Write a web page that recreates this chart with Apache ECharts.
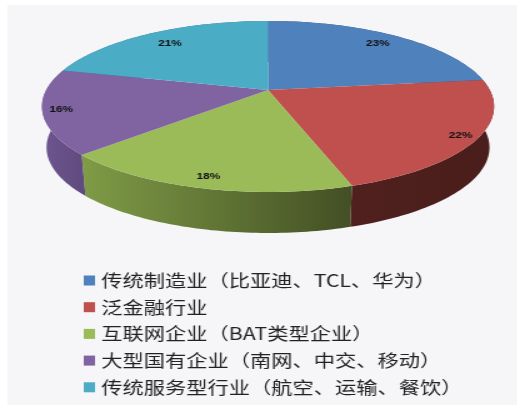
<!DOCTYPE html>
<html>
<head>
<meta charset="utf-8">
<script src="https://cdn.jsdelivr.net/npm/echarts@6/dist/echarts.min.js"></script>
<style>
  html, body { margin: 0; padding: 0; background: #fff; overflow: hidden; }
  /* the source picture is stretched sideways and soft, so the whole chart is too */
  #chart { width: 414px; height: 405px; transform: scaleX(1.25); transform-origin: 0 0; filter: blur(0.5px); }
</style>
</head>
<body>
<div id="chart"></div>
<script>
const categories = [
  '传统制造业（比亚迪、TCL、华为）',
  '泛金融行业',
  '互联网企业（BAT类型企业）',
  '大型国有企业（南网、中交、移动）',
  '传统服务型行业（航空、运输、餐饮）',
]
const shares = [23, 22, 18, 16, 21]

const topColors = ['#4f81bd', '#c0504d', '#9bbb59', '#8064a2', '#4bacc6']
const sideColors = [
  ['#34557c', '#34557c'],
  ['#4f201e', '#4a1e1c'],
  ['#7f9c46', '#434f25'],
  ['#6e5690', '#5f4a7c'],
  ['#31748a', '#31748a'],
]
const labelReach = [0.84, 0.93, 0.9, 0.92, 0.81]

// 倾斜的圆盘：透视投影
const disc = { cx: 214.4, cy: 90, a: 177.4, b: 82.3, k: 0.193, depth: 41, shrink: 0.98 }

function project(angle, r, drop) {
  const u = Math.sin(angle) * r
  const v = Math.cos(angle) * r
  const w = 1 + disc.k * v
  const s = drop ? disc.shrink : 1
  return [disc.cx + (disc.a * s * u) / w, disc.cy - (disc.b * v) / w + (drop ? disc.depth : 0)]
}

function arc(from, to, drop) {
  const pts = []
  const steps = 60
  for (let i = 0; i <= steps; i++) {
    pts.push(project(from + ((to - from) * i) / steps, 1, drop))
  }
  return pts
}

const total = shares.reduce((a, b) => a + b, 0)
function sliceAngles(index) {
  let before = 0
  for (let i = 0; i < index; i++) before += shares[i]
  return [(before / total) * Math.PI * 2, ((before + shares[index]) / total) * Math.PI * 2]
}

function renderSide(params, api) {
  const i = api.value(0)
  const [from, to] = sliceAngles(i)
  const points = arc(from, to, false).concat(arc(from, to, true).reverse())
  const c = sideColors[i]
  return {
    type: 'polygon',
    shape: { points },
    style: {
      fill: new echarts.graphic.LinearGradient(0, 0, 1, 0, [
        { offset: 0, color: c[0] },
        { offset: 1, color: c[1] },
      ]),
    },
  }
}

function renderTop(params, api) {
  const i = api.value(0)
  const [from, to] = sliceAngles(i)
  const points = [project(0, 0, false)].concat(arc(from, to, false))
  return { type: 'polygon', shape: { points }, style: { fill: topColors[i] } }
}

function renderLabel(params, api) {
  const i = api.value(0)
  const [from, to] = sliceAngles(i)
  const p = project((from + to) / 2, labelReach[i], false)
  return {
    type: 'text',
    x: p[0],
    y: p[1],
    style: {
      text: shares[i] + '%',
      fill: '#111',
      font: 'bold 9.5px "Liberation Sans", sans-serif',
      align: 'center',
      verticalAlign: 'middle',
    },
  }
}

const chart = echarts.init(document.getElementById('chart'), null, { renderer: 'canvas' })
chart.setOption({
  animation: false,
  backgroundColor: '#fff',
  graphic: [
    {
      type: 'rect',
      z: -10,
      shape: { x: 6, y: 5, width: 408, height: 400 },
      style: { fill: '#f6f6f9' },
    },
  ],
  legend: {
    data: categories,
    orient: 'vertical',
    left: 62,
    top: 267,
    icon: 'rect',
    itemWidth: 9,
    itemHeight: 10,
    itemGap: 9.7,
    selectedMode: false,
    textStyle: {
      color: '#222',
      fontSize: 17,
      fontFamily: '"Noto Sans CJK SC", sans-serif',
    },
  },
  series: [
    {
      type: 'custom',
      coordinateSystem: 'none',
      silent: true,
      z: 1,
      data: shares.map((v, i) => [i, v]),
      renderItem: renderSide,
    },
    ...categories.map((name, i) => ({
      name,
      type: 'custom',
      coordinateSystem: 'none',
      silent: true,
      z: 2,
      color: topColors[i],
      data: [[i, shares[i]]],
      renderItem: renderTop,
    })),
    {
      type: 'custom',
      coordinateSystem: 'none',
      silent: true,
      z: 3,
      data: shares.map((v, i) => [i, v]),
      renderItem: renderLabel,
    },
  ],
})
</script>
</body>
</html>
